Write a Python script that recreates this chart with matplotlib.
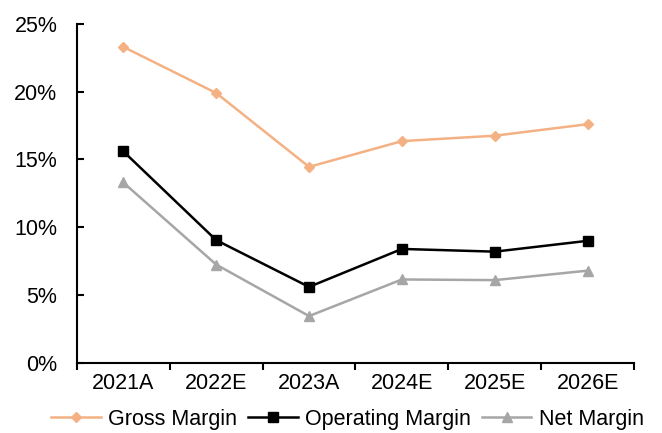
import numpy as np
import matplotlib.pyplot as plt
from matplotlib.ticker import FixedLocator, FuncFormatter

plt.rcParams['font.family'] = ['Liberation Sans', 'DejaVu Sans']

years = ["2021A", "2022E", "2023A", "2024E", "2025E", "2026E"]
gross_margin = [23.3, 19.9, 14.45, 16.35, 16.75, 17.6]
operating_margin = [15.6, 9.05, 5.6, 8.4, 8.2, 9.0]
net_margin = [13.3, 7.25, 3.45, 6.15, 6.1, 6.8]

fig = plt.figure(figsize=(6.62, 4.33), dpi=100)
ax = fig.add_axes([0.116, 0.162, 0.842, 0.783])

x = np.arange(len(years))
ax.plot(x, gross_margin, color='#F4B183', lw=1.8, marker='D', ms=5, label='Gross Margin')
ax.plot(x, operating_margin, color='black', lw=1.8, marker='s', ms=7, label='Operating Margin')
ax.plot(x, net_margin, color='#A6A6A6', lw=1.8, marker='^', ms=7.5, label='Net Margin')

ax.set_xlim(-0.5, len(years) - 0.5)
ax.set_ylim(0, 25)
ax.set_yticks(np.arange(0, 26, 5))
ax.yaxis.set_major_formatter(FuncFormatter(lambda v, p: f"{v:.0f}%"))
ax.tick_params(axis='y', direction='in', length=5, width=1.5, labelsize=15.5, pad=14)

ax.set_xticks(x)
ax.set_xticklabels(years)
ax.tick_params(axis='x', which='major', length=0, labelsize=15.5, pad=7)
ax.xaxis.set_minor_locator(FixedLocator(np.arange(-0.5, len(years), 1)))
ax.tick_params(axis='x', which='minor', direction='out', length=5, width=1.5)

for s in ['top', 'right']:
    ax.spines[s].set_visible(False)
for s in ['left', 'bottom']:
    ax.spines[s].set_linewidth(1.5)

fig.legend(loc='center', bbox_to_anchor=(0.525, 0.032), ncol=3, frameon=False,
           fontsize=15.5, handlelength=2.3, handletextpad=0.35, columnspacing=0.5)

fig.savefig('out.png', dpi=100)
